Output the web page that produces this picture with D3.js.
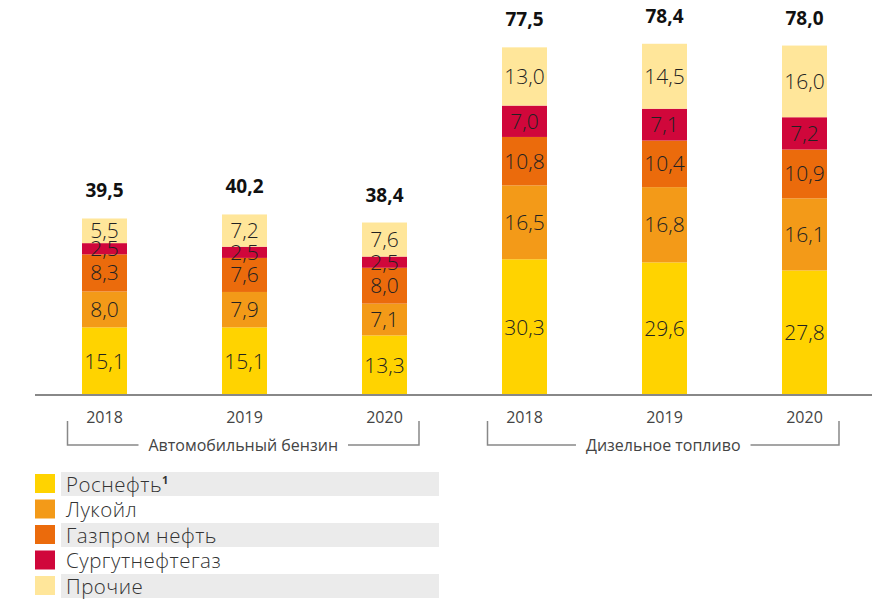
<!DOCTYPE html>
<html><head><meta charset="utf-8">
<script src="https://cdn.jsdelivr.net/npm/d3@7"></script>
<style>
body{margin:0;background:#fff;}
text{font-family:"Open Sans",sans-serif;}
</style></head>
<body><svg id="chart" width="874" height="601"></svg>
<script>
const groups = ["Автомобильный бензин", "Дизельное топливо"];
const years = ["2018", "2019", "2020"];
const series = ["Роснефть", "Лукойл", "Газпром нефть", "Сургутнефтегаз", "Прочие"];
const colors = ["#FFD300", "#F39A18", "#EB6B0C", "#D0073B", "#FFE69A"];
// values per bar: petrol 2018..2020, diesel 2018..2020
const rosneft = [15.1, 15.1, 13.3, 30.3, 29.6, 27.8];
const lukoil = [8.0, 7.9, 7.1, 16.5, 16.8, 16.1];
const gazprom = [8.3, 7.6, 8.0, 10.8, 10.4, 10.9];
const surgut = [2.5, 2.5, 2.5, 7.0, 7.1, 7.2];
const others = [5.5, 7.2, 7.6, 13.0, 14.5, 16.0];
const totals = [39.5, 40.2, 38.4, 77.5, 78.4, 78.0];

const fmt = v => v.toFixed(1).replace(".", ",");
const svg = d3.select("#chart");

const ids = [];
groups.forEach((g, gi) => years.forEach(y => ids.push(gi + "-" + y)));
const rows = ids.map((id, i) => ({id, year: id.split("-")[1], gi: +id.split("-")[0],
  "Роснефть": rosneft[i], "Лукойл": lukoil[i], "Газпром нефть": gazprom[i],
  "Сургутнефтегаз": surgut[i], "Прочие": others[i], total: totals[i]}));

const x = d3.scaleBand().domain(ids).range([34.5, 874.5]).paddingInner(0.6786).paddingOuter(0.3393);
const y = d3.scaleLinear().domain([0, 80]).range([395, 36.6]);
const color = d3.scaleOrdinal().domain(series).range(colors);

const stacked = d3.stack().keys(series)(rows);

const layer = svg.append("g").selectAll("g").data(stacked).join("g").attr("fill", d => color(d.key));
layer.selectAll("rect").data(d => d).join("rect")
  .attr("x", d => x(d.data.id)).attr("width", x.bandwidth())
  .attr("y", d => y(d[1])).attr("height", d => y(d[0]) - y(d[1]));

const lab = svg.append("g").selectAll("g").data(stacked).join("g");
lab.selectAll("text").data(d => d.map(p => ({p, v: p.data[d.key]}))).join("text")
  .attr("x", d => x(d.p.data.id) + x.bandwidth() / 2)
  .attr("y", d => (y(d.p[0]) + y(d.p[1])) / 2)
  .attr("dy", "0.36em").attr("text-anchor", "middle")
  .attr("font-size", 21).attr("font-weight", 300).attr("fill", "#222")
  .text(d => fmt(d.v));

svg.append("g").selectAll("text").data(rows).join("text")
  .attr("x", d => x(d.id) + x.bandwidth() / 2)
  .attr("y", d => y(d3.sum(series, s => d[s])) - 21)
  .attr("text-anchor", "middle").attr("font-size", 19).attr("font-weight", 700).attr("fill", "#111")
  .text(d => fmt(d.total));

// baseline axis
svg.append("line").attr("x1", 35).attr("x2", 872).attr("y1", y(0)).attr("y2", y(0))
  .attr("stroke", "#888").attr("stroke-width", 2);

const xAxis = d3.axisBottom(x).tickSize(0).tickPadding(0).tickFormat(id => id.split("-")[1]);
const ax = svg.append("g").attr("transform", `translate(0,${y(0)})`).call(xAxis);
ax.select(".domain").remove();
ax.selectAll("text").attr("y", 28).attr("dy", 0).attr("font-size", 16).attr("fill", "#444")
  .attr("font-family", "Open Sans, sans-serif");

// group brackets
groups.forEach((g, gi) => {
  const gids = ids.filter(id => id.startsWith(gi + "-"));
  const x0 = x(gids[0]) - 14.5, x1 = x(gids[gids.length - 1]) + x.bandwidth() + 12;
  const cx = (x0 + x1) / 2;
  const t = svg.append("text").attr("x", cx).attr("y", 451).attr("text-anchor", "middle")
    .attr("font-size", 16).attr("fill", "#444").text(g);
  const w = t.node().getComputedTextLength();
  const gap = 10;
  const gp = svg.append("g").attr("fill", "none").attr("stroke", "#888").attr("stroke-width", 1.5);
  gp.append("path").attr("d", `M${x0},421V445H${cx - w / 2 - gap}`);
  gp.append("path").attr("d", `M${x1},421V445H${cx + w / 2 + gap}`);
});

// legend
const leg = svg.append("g").selectAll("g").data(series).join("g")
  .attr("transform", (d, i) => `translate(0,${474 + i * 25.5})`);
leg.filter((d, i) => i % 2 === 0).append("rect").attr("x", 61).attr("y", -2).attr("width", 378).attr("height", 24)
  .attr("fill", "#ebebeb");
leg.append("rect").attr("x", 35).attr("y", 0).attr("width", 20).attr("height", 19).attr("fill", d => color(d));
const lt = leg.append("text").attr("x", 66).attr("y", 17.5).attr("font-size", 20.5).attr("font-weight", 300)
  .attr("letter-spacing", 0.5).attr("fill", "#333").text(d => d);
lt.filter((d, i) => i === 0).append("tspan").attr("font-size", 11).attr("font-weight", 700)
  .attr("dy", -8).text("1");
</script></body></html>
